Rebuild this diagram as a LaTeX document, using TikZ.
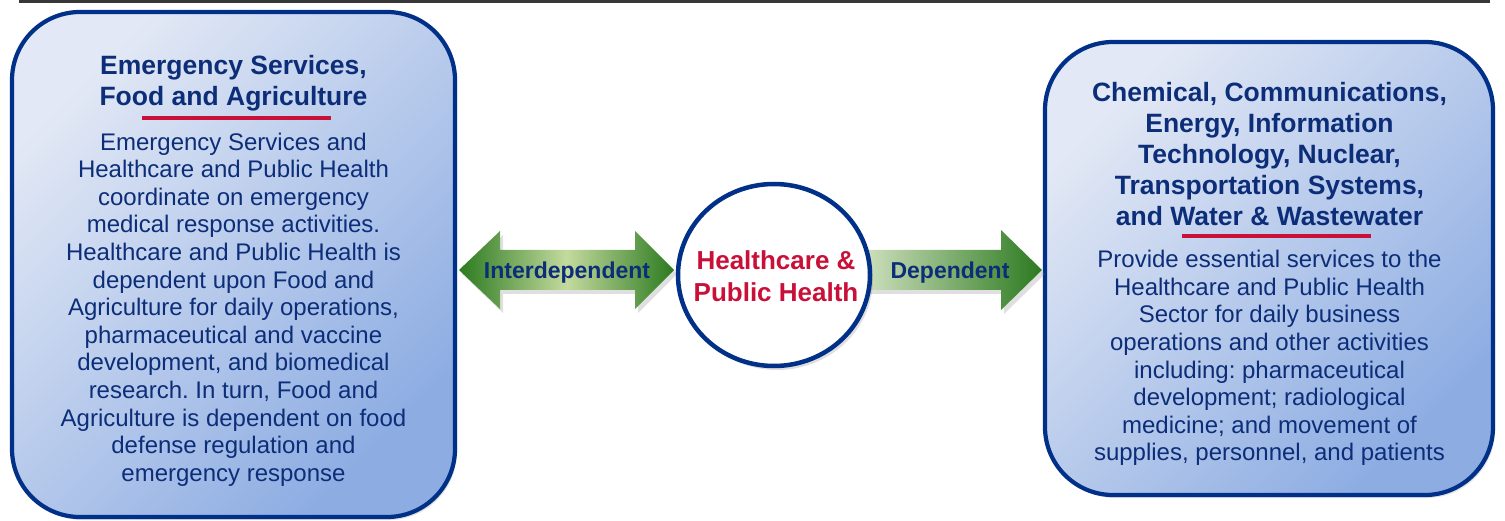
\documentclass[tikz,border=0pt]{standalone}
\usepackage{fontspec}
\setmainfont{Liberation Sans}
\usetikzlibrary{shapes.geometric,shadows}
\definecolor{navyb}{RGB}{0,48,135}
\definecolor{navyt}{RGB}{12,45,120}
\definecolor{redl}{RGB}{200,16,56}
\definecolor{boxlight}{RGB}{226,232,245}
\definecolor{boxdark}{RGB}{140,172,226}
\definecolor{gdark}{RGB}{44,122,32}
\definecolor{glight}{RGB}{196,218,158}
\definecolor{gpale}{RGB}{220,232,202}
\definecolor{rulegray}{RGB}{55,55,55}
\frenchspacing
\begin{document}
\begin{tikzpicture}[x=1pt,y=-1pt,
  sectorbox/.style={draw=navyb, line width=4.2pt, rounded corners=68pt,
    top color=boxlight, bottom color=boxdark, shading angle=45,
    drop shadow={shadow xshift=2pt, shadow yshift=-3pt, opacity=0.22},
    inner sep=0pt},
  titletext/.style={font=\bfseries\fontsize{26.5}{31}\selectfont, text=navyt, align=center, inner sep=0pt},
  bodytext/.style={font=\fontsize{24}{27.6}\selectfont, text=navyt, align=center, inner sep=0pt},
  redrule/.style={draw=redl, line width=3.5pt},
  arrowlabel/.style={font=\bfseries\fontsize{23}{27}\selectfont, text=navyt, inner sep=0pt},
  arrowshadow/.style={drop shadow={shadow xshift=3pt, shadow yshift=-4pt, opacity=0.25}}
]
\useasboundingbox (0,0) rectangle (1505,521);

% top rule
\coordinate (ruleL) at (19,1.5);
\coordinate (ruleR) at (1490,1.5);
\draw[rulegray, line width=3pt] (ruleL) -- (ruleR);

% sector boxes
\node[sectorbox, minimum width=443pt, minimum height=505pt] (lbox) at (233.5,264.5) {};
\node[sectorbox, minimum width=448pt, minimum height=453pt] (rbox) at (1269,268.5) {};

% left box texts
\node[titletext] (ltitle) at (233.5,83) {Emergency Services,\\Food and Agriculture};
\coordinate (lruleA) at (142,118);
\coordinate (lruleB) at (331,118);
\draw[redrule] (lruleA) -- (lruleB);
\node[bodytext] (lbody) at (233.5,309.5) {Emergency Services and\\Healthcare and Public Health\\coordinate on emergency\\medical response activities.\\Healthcare and Public Health is\\dependent upon Food and\\Agriculture for daily operations,\\pharmaceutical and vaccine\\development, and biomedical\\research. In turn, Food and\\Agriculture is dependent on food\\defense regulation and\\emergency response};

% right box texts
\node[titletext] (rtitle) at (1269.5,154) {Chemical, Communications,\\Energy, Information\\Technology, Nuclear,\\Transportation Systems,\\and Water \& Wastewater};
\coordinate (rruleA) at (1182,236);
\coordinate (rruleB) at (1371,236);
\draw[redrule] (rruleA) -- (rruleB);
\node[bodytext] (rbody) at (1269.5,358) {Provide essential services to the\\Healthcare and Public Health\\Sector for daily business\\operations and other activities\\including: pharmaceutical\\development; radiological\\medicine; and movement of\\supplies, personnel, and patients};

% interdependent double arrow
\shade[left color=gdark, right color=gdark, middle color=glight, arrowshadow]
  (459,270) -- (500,231) -- (500,250) -- (635,250) -- (635,231) -- (674,270)
  -- (635,309) -- (635,290) -- (500,290) -- (500,309) -- cycle;
\node[arrowlabel] (ilabel) at (567,272.5) {Interdependent};

% dependent single arrow
\shade[left color=gpale, right color=gdark, arrowshadow]
  (850,250) -- (1001,250) -- (1001,230) -- (1042,270) -- (1001,310)
  -- (1001,290) -- (850,290) -- cycle;
\node[arrowlabel] (dlabel) at (950,272.5) {Dependent};

% hub circle
\node[ellipse, draw=navyb, line width=4.5pt, fill=white, minimum width=192pt,
  minimum height=182pt, inner sep=0pt,
  drop shadow={shadow xshift=3pt, shadow yshift=-4pt, opacity=0.25}] (hub) at (774,275) {};
\node[font=\bfseries\fontsize{26}{32}\selectfont, text=redl, align=center, inner sep=0pt]
  (hubtext) at ([xshift=2pt,yshift=-1pt]hub.center) {Healthcare \&\\Public Health};
\end{tikzpicture}
\end{document}
